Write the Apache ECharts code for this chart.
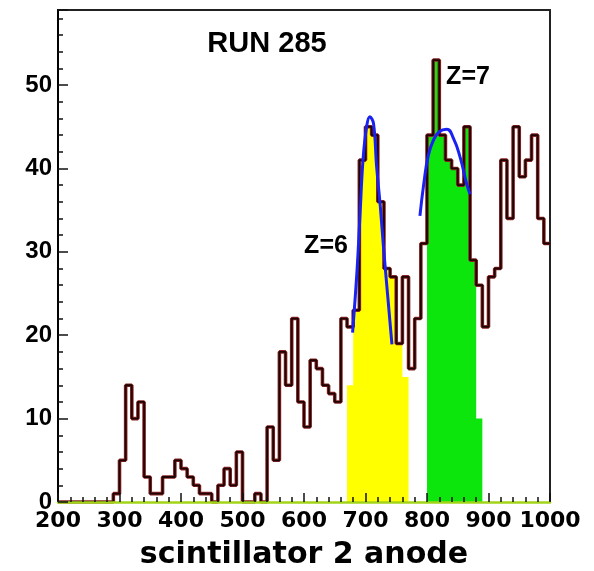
<!DOCTYPE html>
<html>
<head>
<meta charset="utf-8">
<script src="https://cdn.jsdelivr.net/npm/echarts@6/dist/echarts.min.js"></script>
<style>
  html, body { margin: 0; padding: 0; background: #ffffff; }
  #chart { width: 594px; height: 571px; }
</style>
</head>
<body>
<div id="chart"></div>
<script>
// Histogram binning: 10-channel bins from 200 to 1000
const HIST_MIN = 200;
const HIST_MAX = 1000;
const BIN_WIDTH = 10;

// Entries per bin, scintillator 2 anode, 200..1000
const allCounts = [
  0, 0, 0, 0, 0, 0, 0, 0, 0, 1,        // 200-290
  5, 14, 10, 12, 3, 1, 1, 3, 3, 5,     // 300-390
  4, 3, 2, 1, 1, 0, 2, 4, 2, 6,        // 400-490
  0, 0, 1, 0, 9, 5, 18, 14, 22, 12,    // 500-590
  9, 17, 16, 14, 13, 12, 22, 21, 23, 41, // 600-690
  45, 44, 36, 28, 27, 19, 27, 16, 22, 31, // 700-790
  44, 53, 44, 41, 40, 38, 45, 29, 26, 21, // 800-890
  27, 28, 41, 34, 45, 39, 41, 44, 34, 31  // 900-990
];

// Z=6 selection, bins starting at 670
const z6Start = 670;
const z6Counts = [14, 23, 41, 45, 44, 36, 28, 27, 19, 15];

// Z=7 selection, bins starting at 800
const z7Start = 800;
const z7Counts = [44, 53, 44, 41, 40, 38, 45, 29, 10];

// Peak fit curves (channel, entries)
const fitZ6X = [679, 686, 691, 696, 702, 707, 713, 718, 724, 729, 736, 743];
const fitZ6Y = [20.3, 27.5, 34.3, 41.1, 45.1, 46.2, 45.4, 40.3, 35.5, 30.8, 24.8, 18.9];
const fitZ7X = [788.5, 795, 802, 810, 820, 832, 843, 854, 864, 870];
const fitZ7Y = [34.3, 38.3, 41.5, 43.3, 44.4, 44.7, 43.6, 41.3, 38.3, 36.9];

// Axis ranges and ticks
const Y_MAX = 59;
const X_MAJOR = 100, X_MINOR_SPLIT = 5;
const Y_MAJOR = 10, Y_MINOR_SPLIT = 5;

// Texts
const runLabel = 'RUN 285';
const z6Label = 'Z=6';
const z7Label = 'Z=7';
const xTitle = 'scintillator 2 anode';

// Turn bin contents into step-line points (bin low edges + closing edge)
function stepPoints(start, counts) {
  const pts = counts.map((c, i) => [start + i * BIN_WIDTH, c]);
  pts.push([start + counts.length * BIN_WIDTH, counts[counts.length - 1]]);
  return pts;
}
function zipCurve(xs, ys) {
  return xs.map((x, i) => [x, ys[i]]);
}

const chart = echarts.init(document.getElementById('chart'), null, { renderer: 'canvas' });

const option = {
  animation: false,
  backgroundColor: '#ffffff',
  grid: { left: 58, right: 44, top: 10, bottom: 69, show: false, containLabel: false, outerBoundsMode: 'none' },
  xAxis: [
    {
      type: 'value', position: 'bottom', min: HIST_MIN, max: HIST_MAX, interval: X_MAJOR,
      axisLine: { show: true, onZero: false, lineStyle: { color: '#a2d41a', width: 2.5 } },
      axisTick: { show: true, inside: true, length: 9, lineStyle: { color: '#111', width: 1.5 } },
      minorTick: { show: true, splitNumber: X_MINOR_SPLIT, length: 5, lineStyle: { color: '#111', width: 1.5 } },
      axisLabel: {
        show: true, margin: 8, color: '#000',
        fontFamily: 'DejaVu Sans', fontWeight: 'bold', fontSize: 22,
        formatter: v => String(v)
      },
      splitLine: { show: false },
      minorSplitLine: { show: false },
      name: xTitle, nameLocation: 'middle', nameGap: 38,
      nameTextStyle: { fontFamily: 'DejaVu Sans', fontWeight: 'bold', fontSize: 30, color: '#000' },
      z: 5
    },
    {
      type: 'value', position: 'top', min: HIST_MIN, max: HIST_MAX,
      axisLine: { show: true, onZero: false, lineStyle: { color: '#222', width: 2 } },
      axisTick: { show: false }, axisLabel: { show: false }, splitLine: { show: false }
    }
  ],
  yAxis: [
    {
      type: 'value', position: 'left', min: 0, max: Y_MAX, interval: Y_MAJOR,
      axisLine: { show: true, onZero: false, lineStyle: { color: '#000', width: 2 } },
      axisTick: { show: true, inside: true, length: 10, lineStyle: { color: '#111', width: 1.5 } },
      minorTick: { show: true, splitNumber: Y_MINOR_SPLIT, length: 5, lineStyle: { color: '#111', width: 1.5 } },
      axisLabel: {
        show: true, margin: 6, color: '#000',
        fontFamily: 'Liberation Sans', fontWeight: 'bold', fontSize: 24,
        formatter: v => (v % Y_MAJOR === 0 ? String(v) : '')
      },
      splitLine: { show: false },
      minorSplitLine: { show: false },
      z: 5
    },
    {
      type: 'value', position: 'right', min: 0, max: Y_MAX,
      axisLine: { show: true, onZero: false, lineStyle: { color: '#222', width: 2 } },
      axisTick: { show: false }, axisLabel: { show: false }, splitLine: { show: false }
    }
  ],
  series: [
    {
      name: 'Z=6', type: 'line', step: 'end', xAxisIndex: 0, yAxisIndex: 0,
      data: stepPoints(z6Start, z6Counts), showSymbol: false,
      lineStyle: { width: 0 }, areaStyle: { color: '#ffff00', opacity: 1 }
    },
    {
      name: 'Z=7', type: 'line', step: 'end', xAxisIndex: 0, yAxisIndex: 0,
      data: stepPoints(z7Start, z7Counts), showSymbol: false,
      lineStyle: { width: 0 }, areaStyle: { color: '#0ce60c', opacity: 1 }
    },
    {
      name: 'all-halo', type: 'line', step: 'end', xAxisIndex: 0, yAxisIndex: 0,
      data: stepPoints(HIST_MIN, allCounts), showSymbol: false,
      lineStyle: { color: '#8a2424', width: 3.6 }
    },
    {
      name: 'all', type: 'line', step: 'end', xAxisIndex: 0, yAxisIndex: 0,
      data: stepPoints(HIST_MIN, allCounts), showSymbol: false,
      lineStyle: { color: '#1e0303', width: 1.8 }
    },
    {
      name: 'fit Z=6', type: 'line', smooth: 0.4, xAxisIndex: 0, yAxisIndex: 0,
      data: zipCurve(fitZ6X, fitZ6Y), showSymbol: false,
      lineStyle: { color: '#1a22f2', width: 3 }
    },
    {
      name: 'fit Z=7', type: 'line', smooth: true, xAxisIndex: 0, yAxisIndex: 0,
      data: zipCurve(fitZ7X, fitZ7Y), showSymbol: false,
      lineStyle: { color: '#1a22f2', width: 3 }
    }
  ],
  graphic: [
    {
      type: 'text', x: 267, y: 44, z: 10,
      style: {
        text: runLabel, fill: '#000', font: 'bold 29px "Liberation Sans"',
        textAlign: 'center', textVerticalAlign: 'middle', align: 'center', verticalAlign: 'middle'
      }
    },
    {
      type: 'text', x: 326, y: 246, z: 10,
      style: {
        text: z6Label, fill: '#000', font: 'bold 25px "Liberation Sans"',
        textAlign: 'center', textVerticalAlign: 'middle', align: 'center', verticalAlign: 'middle'
      }
    },
    {
      type: 'text', x: 468, y: 77, z: 10,
      style: {
        text: z7Label, fill: '#000', font: 'bold 25px "Liberation Sans"',
        textAlign: 'center', textVerticalAlign: 'middle', align: 'center', verticalAlign: 'middle'
      }
    }
  ]
};

chart.setOption(option);
</script>
</body>
</html>
